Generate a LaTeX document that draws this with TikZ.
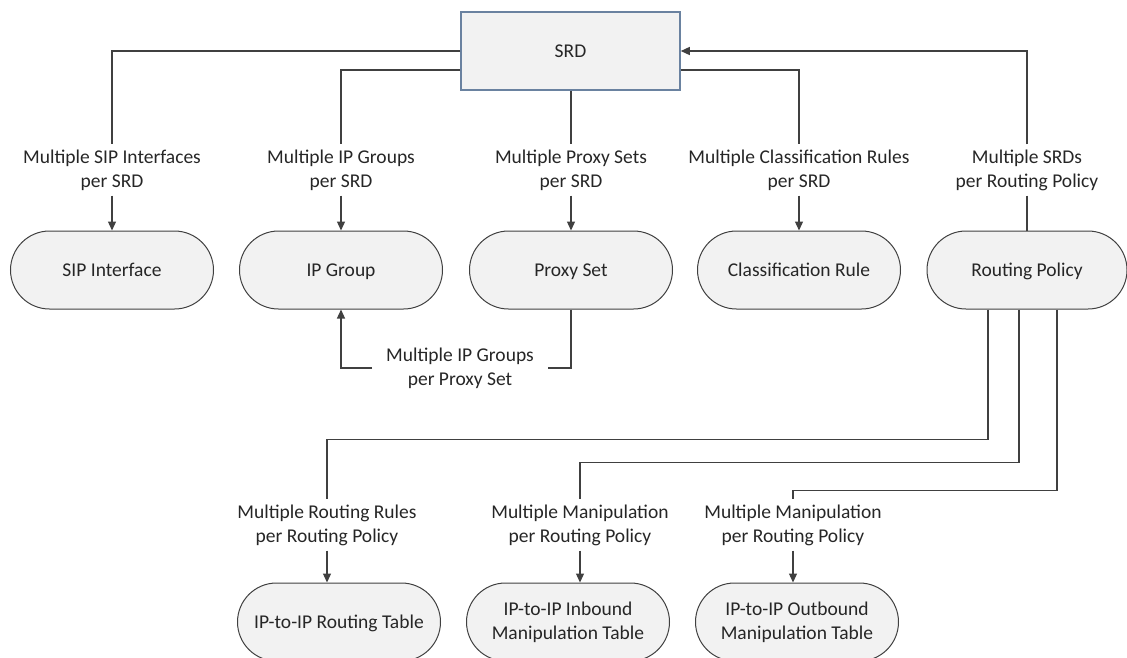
\documentclass[tikz,border=0pt]{standalone}
\usepackage{fontspec}
\setmainfont{Carlito}
\usepackage{tikz}
\usepackage{xcolor}
\usetikzlibrary{positioning, arrows.meta}

\definecolor{linegray}{HTML}{404040}
\definecolor{pillfill}{HTML}{F2F2F2}
\definecolor{srdedge}{HTML}{6A82A0}
\definecolor{textgray}{HTML}{262626}

\tikzset{
    pill/.style={draw=linegray, line width=1pt, fill=pillfill, rounded corners=39pt,
        minimum width=203pt, minimum height=78pt, inner sep=0pt,
        text height=16pt, text depth=2.5pt},
    pilltwo/.style={draw=linegray, line width=1pt, fill=pillfill, rounded corners=39pt,
        minimum width=203pt, minimum height=78pt, inner sep=0pt, align=center},
    srdbox/.style={draw=srdedge, line width=1.5pt, fill=pillfill,
        minimum width=219pt, minimum height=78pt, text height=16pt, text depth=2.5pt},
    lbl/.style={align=center, inner xsep=2pt, inner ysep=5pt},
    conn/.style={draw=linegray, line width=1.3pt},
    arr/.style={conn, -{Triangle[length=9pt, width=8pt]}}
}

\begin{document}
\begin{tikzpicture}[x=1pt, y=-1pt, font=\fontsize{19.5}{24}\selectfont, text=textgray]
                \useasboundingbox (0, 0) rectangle (1127, 657);
                \clip (0, 0) rectangle (1127, 657);

                \node[srdbox] (srd) at (570.5, 51) {SRD};

                \node[pill] (sip) at (112, 270) {SIP Interface};
                \node[pill] (ipgrp) at (341, 270) {IP Group};
                \node[pill] (proxy) at (571, 270) {Proxy Set};
                \node[pill] (classrule) at (799, 270) {Classification Rule};
                \node[pill, minimum width=200pt] (routing) at (1027, 270) {Routing Policy};

                \node[pill] (rtable) at (339, 622) {IP-to-IP Routing Table};
                \node[pilltwo] (inbound) at (568, 622) {IP-to-IP Inbound\\Manipulation Table};
                \node[pilltwo] (outbound) at (797, 622) {IP-to-IP Outbound\\Manipulation Table};

                % labels on the connectors
                \node[lbl] (lsip) at (112, 170) {Multiple SIP Interfaces\\per SRD};
                \node[lbl] (lipgrp) at (341, 170) {Multiple IP Groups\\per SRD};
                \node[lbl] (lproxy) at (571, 170) {Multiple Proxy Sets\\per SRD};
                \node[lbl] (lclass) at (799, 170) {Multiple Classification Rules\\per SRD};
                \node[lbl] (lsrds) at (1027, 170) {Multiple SRDs\\per Routing Policy};
                \node[lbl, inner xsep=14pt] (lpxgrp) at (460, 368) {Multiple IP Groups\\per Proxy Set};
                \node[lbl] (lrules) at (327, 525) {Multiple Routing Rules\\per Routing Policy};
                \node[lbl] (linb) at (580, 525) {Multiple Manipulation\\per Routing Policy};
                \node[lbl] (loutb) at (793, 525) {Multiple Manipulation\\per Routing Policy};

                \draw[conn] (srd.west) -| (lsip.north);
                \draw[conn] ([yshift=-19pt]srd.west) -| (lipgrp.north);
                \draw[conn] (srd.south -| lproxy.north) -- (lproxy.north);
                \draw[conn] ([yshift=-19pt]srd.east) -| (lclass.north);
                \draw[arr] (lsrds.north) |- (srd.east);
                \draw[conn] (lsrds.south) -- (routing.north);

                \foreach \l/\p in {lsip/sip, lipgrp/ipgrp, lproxy/proxy, lclass/classrule,
                                   lrules/rtable, linb/inbound, loutb/outbound}
                    \draw[arr] (\l.south) -- (\l.south |- \p.north);

                \draw[conn] (proxy.south) |- (lpxgrp.east);
                \draw[arr] (lpxgrp.west) -| (ipgrp.south);

                \draw[conn] ([xshift=-39pt]routing.south) -- ++(0, 130) -| (lrules.north);
                \draw[conn] ([xshift=-8pt]routing.south) -- ++(0, 153) -| (linb.north);
                \draw[conn] ([xshift=30pt]routing.south) -- ++(0, 181) -| (loutb.north);
            \end{tikzpicture}
\end{document}
